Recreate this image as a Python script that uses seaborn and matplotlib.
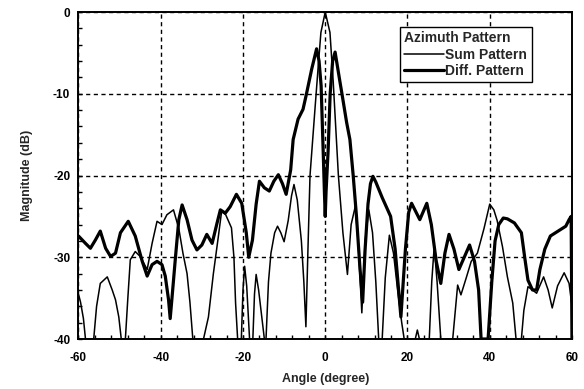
import matplotlib
matplotlib.use("Agg")
import matplotlib.pyplot as plt
import pandas as pd
import seaborn as sns
from matplotlib.ticker import MultipleLocator

# Sum (reference) channel, azimuth cut
sum_angle = [
    -60, -59.5, -58.8, -58.3, -56.3, -55.6, -54.7, -53.0, -51.8, -51.0, -50.2, -49.6,
    -48.6, -48.0, -47.4, -46.2, -45.0, -43.3, -42.1, -40.9, -39.7, -38.5, -36.9, -35.6,
    -34.6, -33.6, -32.9, -32.2, -29.6, -28.4, -27.2, -26.0, -25.2, -24.2, -22.8, -22.2,
    -21.8, -21.3, -20.4, -20.0, -19.6, -19.1, -18.4, -17.6, -17.2, -16.8, -16.2, -15.5,
    -14.8, -14.4, -13.8, -13.2, -12.3, -11.6, -10.8, -10.0, -9.0, -8.2, -7.6, -6.8,
    -5.8, -5.2, -4.7, -4.2, -3.7, -2.5, -1.7, -1.05, 0, 1.15, 1.95, 3.2,
    4.3, 5.4, 6.3, 7.3, 8.0, 8.9, 9.7, 10.6, 11.5, 12.3, 13.0, 13.85,
    14.6, 15.6, 16.6, 17.6, 18.6, 19.2, 21.9, 22.4, 22.9, 25.3, 25.9, 26.5,
    27.2, 28.1, 31.0, 32.2, 33.0, 34.3, 35.5, 37.0, 38.6, 40.0, 41.0, 41.8,
    43.1, 44.3, 45.6, 46.4, 47.7, 48.3, 49.3, 50.4, 51.4, 53.1, 54.2, 55.2,
    56.5, 58.1, 59.3, 60,
]
sum_db = [
    -34.5, -35.5, -37.5, -40, -40, -36, -33.2, -32.4, -34, -35.2, -37.3, -40,
    -40, -35, -30.3, -29.3, -29.9, -31.5, -28.3, -25.6, -26, -24.8, -24.2, -26.5,
    -29.5, -32, -35.5, -40, -40, -37.3, -32, -27.5, -24.4, -24.8, -26.4, -30,
    -35.6, -40, -40, -34, -31.1, -33.5, -40, -40, -34.5, -32.1, -34, -37,
    -40, -40, -33, -29.5, -27, -26.2, -27, -28.1, -25.5, -22.5, -21.1, -23,
    -28, -33, -38.5, -29, -20, -11.9, -6.6, -2.5, 0, -2.5, -8.6, -20,
    -27, -32.1, -26, -23.8, -28, -36.8, -28, -24.2, -27, -33, -40, -40,
    -32.5, -27.3, -29.5, -34, -38, -40, -40, -38.9, -40, -40, -33, -28.7,
    -33, -40, -40, -33.4, -34.6, -32.5, -30.5, -29.5, -26.5, -23.5, -24.2, -25.5,
    -28.7, -32.4, -35.6, -40, -40, -36.5, -33.6, -34, -34.4, -32.4, -34, -36.2,
    -33.5, -31.9, -33.2, -36,
]

# Difference channel, azimuth cut
diff_angle = [
    -60, -58.3, -57.1, -55.9, -54.7, -53.4, -52.2, -51.0, -49.8, -47.9, -46.2, -44.5,
    -43.3, -42.1, -40.9, -39.7, -38.9, -38.1, -37.7, -37.3, -36.4, -35.6, -34.8, -33.6,
    -32.4, -31.2, -30.0, -28.8, -27.5, -26.3, -25.5, -24.3, -23.1, -21.6, -20.3, -19.2,
    -18.6, -17.7, -16.8, -16.0, -14.8, -13.6, -12.5, -11.4, -10.4, -9.5, -8.4, -7.8,
    -6.6, -5.4, -4.6, -3.3, -2.1, -1.5, -1.0, -0.5, -0.2, 0, 0.2, 0.7,
    1.2, 1.8, 2.4, 3.6, 4.1, 5.2, 6.0, 6.8, 7.6, 8.4, 9.1, 9.7,
    10.4, 11.0, 11.6, 12.3, 13.85, 15.9, 17.0, 18.4, 19.5, 20.3, 21.0, 23.0,
    24.7, 25.8, 27.0, 28.1, 29.1, 30.1, 31.3, 32.5, 33.8, 35.1, 36.3, 37.3,
    37.9, 39.6, 40.5, 41.3, 42.2, 43.3, 44.3, 46.0, 47.7, 48.5, 49.3, 50.4,
    51.4, 52.2, 53.4, 54.75, 57.25, 58.5, 59.3, 59.8, 60,
]
diff_db = [
    -27.4, -28.3, -28.9, -27.9, -26.8, -28.9, -29.9, -29.5, -27.0, -25.6, -27.4, -30.5,
    -32.3, -30.9, -30.5, -30.9, -32.3, -35.2, -37.5, -35.2, -29.9, -25.4, -23.6, -25.4,
    -27.9, -29.1, -28.5, -27.2, -28.3, -25.8, -24.2, -24.6, -23.8, -22.3, -23.4, -27,
    -30, -27.9, -23.5, -20.7, -21.5, -21.9, -20.7, -19.9, -21, -22.3, -19.3, -15.6,
    -13.1, -11.9, -10.1, -7, -4.5, -6, -9, -17, -22, -25, -22, -17,
    -10, -6, -4.9, -8.6, -10.1, -13.5, -15.6, -20, -25, -31, -35.5, -29,
    -23.5, -21, -20.1, -20.8, -22.7, -25, -29, -37.3, -29, -24.5, -23.4, -25.4,
    -23.4, -26, -30.5, -33.2, -29.5, -27.2, -29, -31.5, -30, -28.5, -30.5, -34,
    -40, -40, -33, -28, -26, -25.2, -25.3, -25.8, -27, -30, -32.8, -34,
    -34, -31.5, -29, -27.4, -26.6, -26.2, -25.4, -25, -40,
]

x_ticks = [-60, -40, -20, 0, 20, 40, 60]
y_ticks = [0, -10, -20, -30, -40]

sns.set_theme(style="white")
plt.rcParams["font.family"] = ["Liberation Sans", "DejaVu Sans"]
plt.rcParams["font.weight"] = "bold"
plt.rcParams["axes.labelweight"] = "bold"

sum_df = pd.DataFrame({"angle": sum_angle, "mag": sum_db})
diff_df = pd.DataFrame({"angle": diff_angle, "mag": diff_db})

fig = plt.figure(figsize=(5.84, 3.89), dpi=100)
ax = fig.add_axes([0.1344, 0.1285, 0.845, 0.8406])

sns.lineplot(data=sum_df, x="angle", y="mag", ax=ax, color="black",
             linewidth=1.1, sort=False, estimator=None, label="Sum Pattern")
sns.lineplot(data=diff_df, x="angle", y="mag", ax=ax, color="black",
             linewidth=2.3, sort=False, estimator=None, label="Diff. Pattern")

ax.set_xlim(-60, 60)
ax.set_ylim(-40, 0)
ax.set_xticks(x_ticks)
ax.set_yticks(y_ticks)
ax.set_xticklabels([str(v) for v in x_ticks])
ax.set_yticklabels([str(v) for v in y_ticks])
ax.xaxis.set_minor_locator(MultipleLocator(4))
ax.yaxis.set_minor_locator(MultipleLocator(2))
ax.tick_params(which="major", direction="in", length=3, width=1, color="black",
               labelsize=8.5, labelcolor="black")
ax.tick_params(which="minor", direction="in", length=3, width=1, color="black")
ax.tick_params(axis="x", which="both", bottom=True, top=False, pad=9)
ax.tick_params(axis="y", which="both", left=True, right=False, pad=6)

ax.grid(True, which="major", color="black", linestyle=(0, (3, 2.5)), linewidth=1.0)
for sp in ax.spines.values():
    sp.set_color("black")
    sp.set_linewidth(1.4)
    sp.set_visible(True)

ax.set_xlabel("Angle (degree)", fontsize=9, fontweight="bold", labelpad=7)
ax.set_ylabel("Magnitude (dB)", fontsize=9, fontweight="bold", labelpad=14)

leg = ax.legend(title="Azimuth Pattern", loc="upper right",
                bbox_to_anchor=(0.918, 0.954), frameon=True, fancybox=False,
                edgecolor="black", framealpha=1, fontsize=10, title_fontsize=10,
                alignment="left", handlelength=2.9, handletextpad=0.1,
                labelspacing=0.18, borderpad=0.3, borderaxespad=0)
leg.get_frame().set_linewidth(1.0)
leg.get_title().set_fontweight("bold")

fig.savefig("out.png", dpi=100)
